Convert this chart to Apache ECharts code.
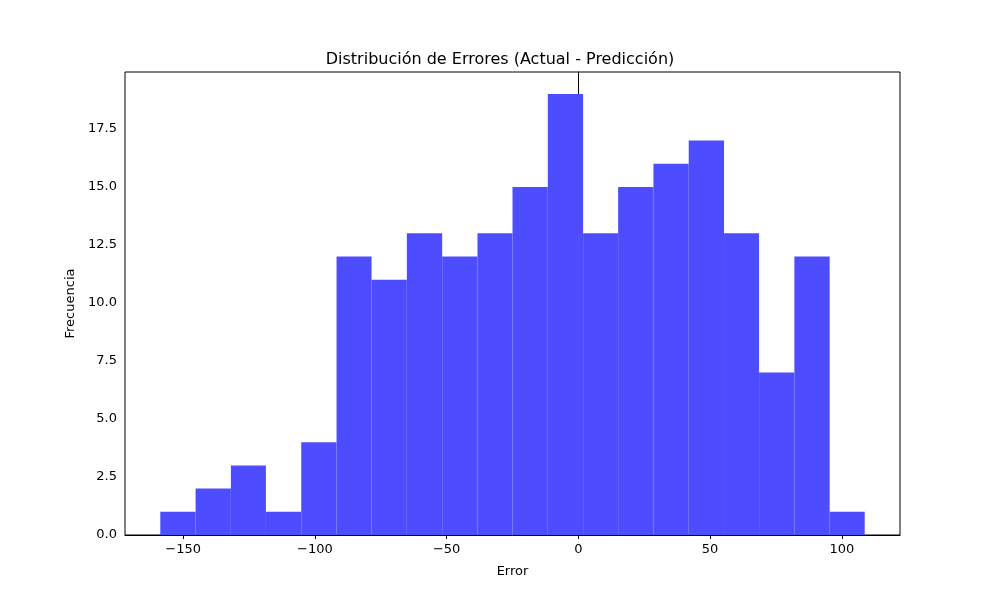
<!DOCTYPE html>
<html><head><meta charset="utf-8">
<script src="https://cdn.jsdelivr.net/npm/echarts@6/dist/echarts.min.js"></script>
<style>body{margin:0}#c{width:1000px;height:600px}</style></head>
<body><div id="c"></div>
<script>
const binEdges = [-158.7,-145.3,-131.9,-118.6,-105.2,-91.8,-78.5,-65.1,-51.7,-38.3,-25.0,-11.6,1.8,15.1,28.5,41.9,55.3,68.6,82.0,95.4,108.7];
const counts = [1,2,3,1,4,12,11,13,12,13,15,19,13,15,16,17,13,7,12,1];
const xTicks = [-150,-100,-50,0,50,100];
const yTicks = [0,2.5,5,7.5,10,12.5,15,17.5];
const data = counts.map((c,i)=>[binEdges[i],binEdges[i+1],c]);
const chart = echarts.init(document.getElementById('c'));
const font = 'DejaVu Sans';
chart.setOption({
  animation:false,
  title:{text:'Distribución de Errores (Actual - Predicción)',left:'center',top:47,textStyle:{fontFamily:font,fontSize:16,fontWeight:'normal',color:'#000'}},
  grid:{left:125,right:100,top:72,bottom:65,show:true,borderColor:'#000',borderWidth:1,backgroundColor:'transparent'},
  xAxis:{type:'value',min:-172.1,max:122.1,name:'Error',nameLocation:'middle',nameGap:30,
    nameTextStyle:{fontFamily:font,fontSize:13,color:'#000'},
    axisLine:{show:true,onZero:false,lineStyle:{color:'#000'}},
    axisTick:{show:true,length:4,lineStyle:{color:'#000'},customValues:xTicks},
    axisLabel:{fontFamily:font,fontSize:13,color:'#000',customValues:xTicks,formatter:v=>String(v).replace('-','\u2212')},
    splitLine:{show:false}},
  yAxis:{type:'value',min:0,max:19.95,name:'Frecuencia',nameLocation:'middle',nameGap:48,
    nameTextStyle:{fontFamily:font,fontSize:13,color:'#000'},
    axisLine:{show:true,lineStyle:{color:'#000'}},
    axisTick:{show:true,length:4,lineStyle:{color:'#000'},customValues:yTicks},
    axisLabel:{fontFamily:font,fontSize:13,color:'#000',customValues:yTicks,formatter:v=>v.toFixed(1)},
    splitLine:{show:false}},
  series:[{type:'custom',data:data,encode:{x:[0,1],y:2},
    renderItem:(params,api)=>{
      const p0=api.coord([api.value(0),api.value(2)]);
      const p1=api.coord([api.value(1),0]);
      return {type:'rect',shape:{x:p0[0],y:p0[1],width:p1[0]-p0[0],height:p1[1]-p0[1]},style:{fill:'rgb(77,77,255)'}};
    }}]
});
</script></body></html>
